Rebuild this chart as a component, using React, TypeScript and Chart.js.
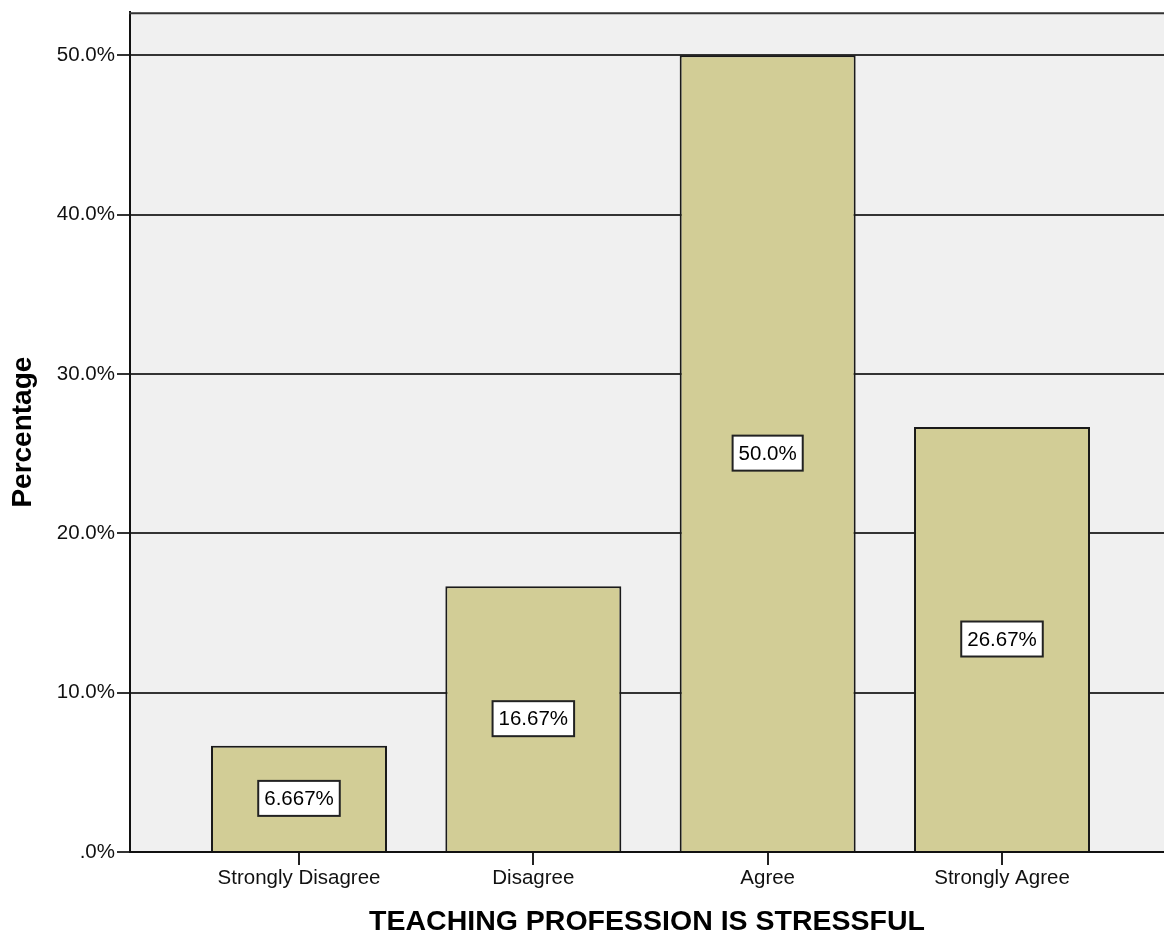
import React, { useEffect, useRef } from "react";
import { Chart, registerables } from "chart.js";

Chart.register(...registerables);

const categories = ["Strongly Disagree", "Disagree", "Agree", "Strongly Agree"];
const categoryPositions = [0, 1, 2, 3];
const percentages = [6.667, 16.67, 50.0, 26.67];
const valueLabels = ["6.667%", "16.67%", "50.0%", "26.67%"];
const yTickValues = [0, 10, 20, 30, 40, 50];
const yTickLabels = [".0%", "10.0%", "20.0%", "30.0%", "40.0%", "50.0%"];
const xTitle = "TEACHING PROFESSION IS STRESSFUL";
const yTitle = "Percentage";

const FONT = "'Liberation Sans', Arial, sans-serif";

export default function App() {
  const ref = useRef<HTMLCanvasElement | null>(null);

  useEffect(() => {
    if (!ref.current) return;

    const framePlugin = {
      id: "frame",
      beforeDraw(chart: any) {
        const { ctx, chartArea } = chart;
        ctx.save();
        ctx.fillStyle = "#f0f0f0";
        ctx.fillRect(chartArea.left, chartArea.top, chartArea.right - chartArea.left, chartArea.bottom - chartArea.top);
        ctx.restore();
      },
      afterDraw(chart: any) {
        const { ctx, chartArea } = chart;
        ctx.save();
        ctx.strokeStyle = "#333";
        ctx.lineWidth = 2;
        ctx.beginPath();
        ctx.moveTo(chartArea.left - 1, chartArea.top + 1);
        ctx.lineTo(chartArea.right, chartArea.top + 1);
        ctx.stroke();
        ctx.restore();
      },
    };

    const labelPlugin = {
      id: "valueLabels",
      afterDatasetsDraw(chart: any) {
        const { ctx } = chart;
        const meta = chart.getDatasetMeta(0);
        ctx.save();
        ctx.font = `20.5px ${FONT}`;
        ctx.textAlign = "center";
        ctx.textBaseline = "middle";
        meta.data.forEach((bar: any, i: number) => {
          const txt = valueLabels[i];
          const cx = bar.x;
          const cy = (bar.y + bar.base) / 2;
          const w = ctx.measureText(txt).width + 12;
          const h = 35;
          ctx.fillStyle = "#ffffff";
          ctx.fillRect(cx - w / 2, cy - h / 2, w, h);
          ctx.strokeStyle = "#222";
          ctx.lineWidth = 2;
          ctx.strokeRect(cx - w / 2, cy - h / 2, w, h);
          ctx.fillStyle = "#000";
          ctx.fillText(txt, cx, cy + 1);
        });
        ctx.restore();
      },
    };

    const chart = new Chart(ref.current, {
      type: "bar",
      data: {
        datasets: [
          {
            data: categoryPositions.map((x, i) => ({ x, y: percentages[i] })),
            backgroundColor: "#d2cd96",
            borderColor: "#1a1a1a",
            borderWidth: 2,
            barPercentage: 0.751,
            categoryPercentage: 1,
          },
        ],
      },
      options: {
        animation: false,
        responsive: false,
        maintainAspectRatio: false,
        layout: { padding: { top: 12, right: 0, left: 0, bottom: 0 } },
        plugins: {
          legend: { display: false },
          tooltip: { enabled: false },
        },
        scales: {
          x: {
            type: "linear",
            offset: false,
            min: -0.7212,
            max: 3.6913,
            afterFit(scale: any) {
              scale.height = 83;
            },
            afterBuildTicks(scale: any) {
              scale.ticks = categoryPositions.map((v) => ({ value: v }));
            },
            grid: {
              offset: false,
              drawOnChartArea: false,
              drawTicks: true,
              tickLength: 13,
              color: "#222",
              lineWidth: 2,
            },
            border: { display: true, color: "#111", width: 2 },
            ticks: {
              autoSkip: false,
              maxRotation: 0,
              padding: 1,
              color: "#111",
              font: { family: FONT, size: 20.5 },
              callback: (v: any) => categories[categoryPositions.indexOf(Number(v))] ?? "",
            },
            title: {
              display: true,
              text: xTitle,
              color: "#000",
              font: { family: FONT, size: 28.5, weight: "bold", lineHeight: 0.9 },
              padding: { top: 0, bottom: 0 },
            },
          },
          y: {
            min: 0,
            max: 52.7,
            afterFit(scale: any) {
              scale.width = 130;
            },
            afterBuildTicks(scale: any) {
              scale.ticks = yTickValues.map((v) => ({ value: v }));
            },
            grid: {
              drawTicks: true,
              tickLength: 13,
              color: "#333",
              lineWidth: 2,
            },
            border: { display: true, color: "#111", width: 2 },
            ticks: {
              padding: 2,
              color: "#111",
              font: { family: FONT, size: 20.5, lineHeight: 1 },
              callback: (v: any) => yTickLabels[yTickValues.indexOf(Number(v))] ?? "",
            },
            title: {
              display: true,
              text: yTitle,
              color: "#000",
              font: { family: FONT, size: 28, weight: "bold" },
              padding: { top: 6, bottom: 0 },
            },
          },
        },
      } as any,
      plugins: [framePlugin, labelPlugin],
    });

    return () => chart.destroy();
  }, []);

  return (
    <div style={{ position: "absolute", left: 0, top: 0, width: 1164, height: 935, overflow: "hidden", background: "#fff" }}>
      <canvas ref={ref} width={1164} height={935} style={{ display: "block", width: 1164, height: 935 }} />
    </div>
  );
}
